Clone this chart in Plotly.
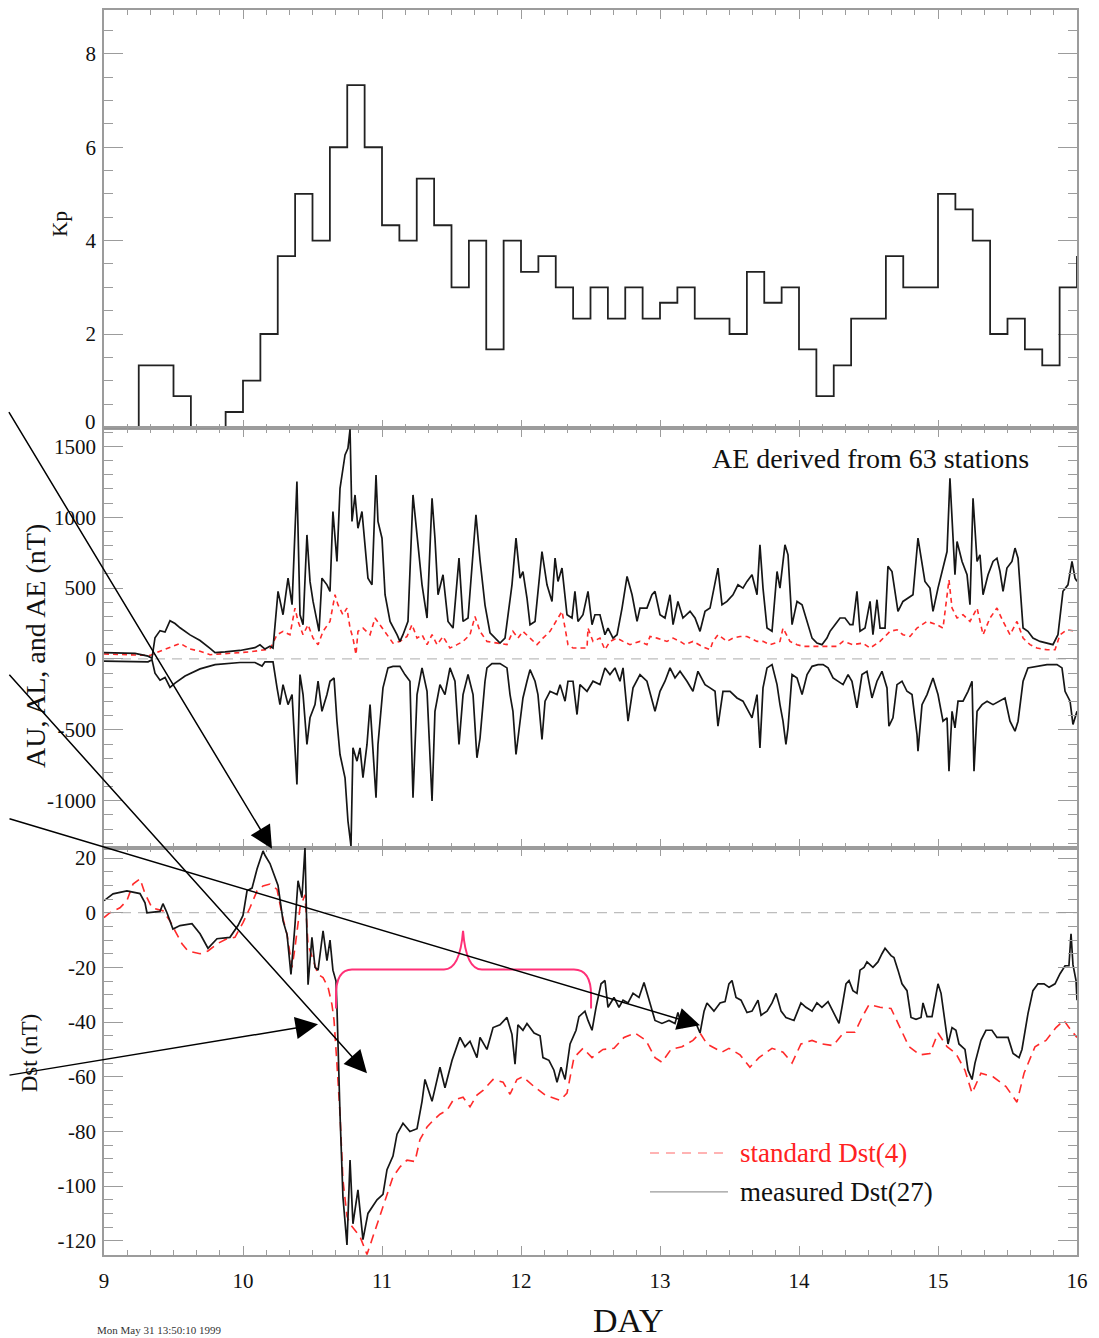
import plotly.graph_objects as go

# ---------------- data ----------------
# Kp, 3-hour bins starting at day 9.0 (last value = start of next bin at day 16)
kp_values = [0, 0, 1.33, 1.33, 0.67, 0, 0, 0.33, 1.0, 2.0, 3.67, 5.0, 4.0, 6.0, 7.33, 6.0,
             4.33, 4.0, 5.33, 4.33, 3.0, 4.0, 1.67, 4.0, 3.33, 3.67, 3.0, 2.33, 3.0, 2.33,
             3.0, 2.33, 2.67, 3.0, 2.33, 2.33, 2.0, 3.33, 2.67, 3.0, 1.67, 0.67, 1.33, 2.33,
             2.33, 3.67, 3.0, 3.0, 5.0, 4.67, 4.0, 2.0, 2.33, 1.67, 1.33, 3.0, 3.67]
kp_bin_days = 0.125

# AE (nT): (day, value)
ae_points = [
    (9.000, 45), (9.115, 45), (9.223, 40), (9.317, 20), (9.345, 5), (9.367, 150), (9.403, 200),
    (9.439, 190), (9.475, 270), (9.511, 250), (9.547, 220), (9.619, 170), (9.691, 130),
    (9.763, 75), (9.799, 45), (9.871, 50), (9.978, 60), (10.086, 80), (10.122, 100),
    (10.158, 70), (10.194, 90), (10.216, 77), (10.252, 477), (10.288, 312), (10.324, 570),
    (10.353, 383), (10.388, 1251), (10.410, 312), (10.432, 242), (10.460, 875), (10.482, 547),
    (10.504, 406), (10.547, 195), (10.568, 570), (10.604, 523), (10.626, 477), (10.647, 1040),
    (10.676, 688), (10.698, 1204), (10.734, 1439), (10.755, 1486), (10.770, 1620),
    (10.784, 970), (10.806, 1157), (10.827, 922), (10.856, 1040), (10.878, 805), (10.899, 570),
    (10.928, 523), (10.957, 1298), (10.971, 970), (11.000, 852), (11.022, 453), (11.058, 265),
    (11.108, 171), (11.129, 124), (11.151, 171), (11.187, 265), (11.223, 1157), (11.252, 875),
    (11.288, 523), (11.324, 289), (11.360, 1134), (11.381, 852), (11.403, 453), (11.439, 594),
    (11.475, 265), (11.511, 218), (11.554, 711), (11.583, 265), (11.619, 289), (11.676, 1017),
    (11.705, 700), (11.741, 380), (11.777, 185), (11.849, 112), (11.885, 147), (11.935, 523),
    (11.964, 852), (11.993, 570), (12.014, 617), (12.043, 430), (12.065, 242), (12.101, 265),
    (12.151, 758), (12.187, 523), (12.223, 406), (12.245, 711), (12.266, 547), (12.295, 641),
    (12.331, 312), (12.367, 289), (12.388, 477), (12.410, 265), (12.446, 312), (12.482, 477),
    (12.511, 242), (12.532, 312), (12.568, 312), (12.604, 171), (12.626, 218), (12.662, 147),
    (12.691, 171), (12.727, 359), (12.763, 582), (12.799, 453), (12.835, 265), (12.856, 359),
    (12.906, 359), (12.942, 453), (12.964, 477), (13.000, 312), (13.036, 289), (13.072, 453),
    (13.094, 242), (13.129, 406), (13.165, 289), (13.216, 336), (13.252, 289), (13.288, 195),
    (13.324, 336), (13.360, 359), (13.417, 641), (13.446, 383), (13.482, 406), (13.525, 453),
    (13.561, 523), (13.597, 500), (13.626, 547), (13.662, 594), (13.698, 453), (13.719, 805),
    (13.741, 500), (13.770, 218), (13.806, 195), (13.842, 617), (13.863, 500), (13.899, 805),
    (13.921, 735), (13.950, 242), (13.986, 406), (14.022, 383), (14.058, 265), (14.094, 147),
    (14.129, 112), (14.165, 101), (14.201, 147), (14.223, 195), (14.259, 242), (14.295, 289),
    (14.331, 289), (14.367, 242), (14.388, 242), (14.417, 477), (14.439, 195), (14.475, 218),
    (14.511, 406), (14.532, 171), (14.561, 418), (14.583, 218), (14.619, 218), (14.640, 653),
    (14.669, 617), (14.691, 453), (14.712, 336), (14.748, 406), (14.784, 430), (14.820, 453),
    (14.856, 852), (14.885, 688), (14.906, 547), (14.942, 500), (14.964, 336), (15.000, 500),
    (15.036, 641), (15.065, 758), (15.086, 1274), (15.108, 805), (15.122, 594), (15.137, 829),
    (15.173, 688), (15.209, 594), (15.230, 383), (15.252, 1134), (15.281, 688), (15.302, 735),
    (15.324, 453), (15.360, 594), (15.396, 688), (15.424, 711), (15.446, 617), (15.468, 477),
    (15.496, 641), (15.532, 688), (15.554, 782), (15.576, 711), (15.612, 218), (15.647, 195),
    (15.683, 147), (15.734, 124), (15.784, 112), (15.827, 101), (15.863, 171), (15.899, 477),
    (15.935, 523), (15.964, 688), (15.986, 570), (16.000, 547)]

# AU (nT)
au_points = [
    (9.000, 35), (9.187, 30), (9.331, 25), (9.403, 55), (9.475, 80), (9.547, 110), (9.619, 70),
    (9.691, 55), (9.763, 30), (9.906, 40), (10.050, 50), (10.194, 70), (10.245, 171),
    (10.288, 195), (10.338, 171), (10.374, 359), (10.396, 265), (10.432, 171), (10.468, 242),
    (10.504, 147), (10.540, 101), (10.576, 195), (10.626, 265), (10.662, 453), (10.683, 383),
    (10.719, 312), (10.748, 359), (10.770, 218), (10.791, 147), (10.813, 30), (10.827, 195),
    (10.863, 218), (10.914, 171), (10.950, 289), (10.986, 242), (11.036, 171), (11.079, 112),
    (11.129, 124), (11.180, 159), (11.216, 242), (11.252, 147), (11.288, 171), (11.324, 101),
    (11.360, 171), (11.396, 101), (11.439, 159), (11.489, 77), (11.540, 101), (11.583, 124),
    (11.633, 171), (11.669, 300), (11.705, 195), (11.755, 124), (11.899, 101), (11.942, 195),
    (11.978, 147), (12.014, 195), (12.065, 147), (12.115, 101), (12.158, 147), (12.209, 195),
    (12.259, 277), (12.295, 336), (12.317, 218), (12.338, 101), (12.374, 77), (12.475, 77),
    (12.482, 218), (12.518, 124), (12.568, 147), (12.604, 65), (12.640, 124), (12.691, 147),
    (12.734, 124), (12.784, 101), (12.856, 124), (12.906, 101), (12.928, 159), (12.978, 147),
    (13.050, 124), (13.094, 147), (13.144, 124), (13.180, 101), (13.237, 124), (13.302, 89),
    (13.360, 65), (13.381, 124), (13.417, 171), (13.482, 124), (13.525, 147), (13.576, 159),
    (13.626, 159), (13.698, 124), (13.741, 124), (13.791, 101), (13.863, 124), (13.885, 218),
    (13.935, 124), (13.986, 101), (14.029, 89), (14.151, 89), (14.273, 89), (14.317, 124),
    (14.388, 101), (14.460, 112), (14.511, 77), (14.583, 124), (14.655, 195), (14.705, 206),
    (14.748, 171), (14.799, 159), (14.849, 218), (14.921, 265), (14.993, 242), (15.036, 218),
    (15.079, 558), (15.101, 359), (15.137, 289), (15.180, 312), (15.230, 265), (15.281, 359),
    (15.324, 171), (15.374, 289), (15.424, 359), (15.468, 265), (15.518, 171), (15.568, 265),
    (15.612, 147), (15.662, 101), (15.712, 77), (15.784, 65), (15.842, 65), (15.878, 171),
    (15.928, 206), (16.000, 195)]

# AL (nT)
al_points = [
    (9.000, -15), (9.187, -20), (9.317, -20), (9.345, -5), (9.367, -100), (9.403, -150),
    (9.439, -130), (9.475, -200), (9.511, -170), (9.583, -120), (9.691, -70), (9.799, -40),
    (9.978, -25), (10.086, -25), (10.137, -50), (10.158, -20), (10.216, -20), (10.245, -204),
    (10.266, -322), (10.288, -181), (10.324, -322), (10.353, -251), (10.388, -885),
    (10.410, -110), (10.432, -251), (10.460, -603), (10.482, -415), (10.518, -322),
    (10.540, -157), (10.568, -369), (10.604, -251), (10.626, -157), (10.655, -134),
    (10.676, -439), (10.698, -674), (10.734, -838), (10.755, -1143), (10.777, -1320),
    (10.791, -627), (10.820, -721), (10.842, -627), (10.863, -838), (10.892, -603),
    (10.914, -322), (10.957, -979), (10.971, -603), (11.007, -204), (11.043, -63),
    (11.079, -52), (11.129, -52), (11.165, -110), (11.201, -157), (11.223, -979),
    (11.252, -251), (11.288, -63), (11.324, -228), (11.360, -1002), (11.381, -369),
    (11.417, -181), (11.453, -251), (11.489, -63), (11.525, -157), (11.554, -603),
    (11.583, -251), (11.619, -110), (11.655, -251), (11.683, -697), (11.705, -560),
    (11.741, -157), (11.755, -63), (11.791, -33), (11.849, -33), (11.899, -63), (11.921, -251),
    (11.942, -369), (11.964, -674), (11.993, -415), (12.014, -275), (12.043, -157),
    (12.065, -75), (12.101, -157), (12.122, -251), (12.151, -568), (12.173, -298),
    (12.209, -228), (12.259, -251), (12.281, -181), (12.317, -298), (12.338, -157),
    (12.374, -157), (12.403, -392), (12.424, -181), (12.475, -228), (12.518, -157),
    (12.568, -181), (12.604, -63), (12.640, -110), (12.676, -63), (12.712, -157),
    (12.734, -63), (12.770, -439), (12.806, -204), (12.856, -110), (12.906, -157),
    (12.964, -369), (13.000, -228), (13.036, -157), (13.072, -63), (13.108, -134),
    (13.144, -87), (13.194, -157), (13.237, -228), (13.273, -87), (13.324, -181),
    (13.360, -204), (13.396, -228), (13.417, -474), (13.453, -228), (13.504, -228),
    (13.554, -275), (13.597, -298), (13.662, -415), (13.698, -251), (13.719, -627),
    (13.741, -204), (13.770, -63), (13.806, -40), (13.842, -181), (13.863, -322),
    (13.885, -439), (13.906, -603), (13.921, -486), (13.950, -110), (13.986, -134),
    (14.022, -251), (14.058, -110), (14.094, -52), (14.137, -40), (14.173, -40),
    (14.209, -63), (14.245, -134), (14.281, -157), (14.317, -181), (14.353, -110),
    (14.381, -157), (14.417, -345), (14.453, -110), (14.489, -87), (14.525, -275),
    (14.561, -157), (14.597, -87), (14.633, -204), (14.647, -474), (14.676, -415),
    (14.705, -181), (14.741, -157), (14.777, -228), (14.813, -251), (14.849, -533),
    (14.856, -650), (14.885, -322), (14.921, -251), (14.964, -134), (15.000, -251),
    (15.036, -439), (15.065, -415), (15.079, -791), (15.101, -369), (15.122, -486),
    (15.144, -298), (15.180, -298), (15.216, -228), (15.245, -157), (15.259, -791),
    (15.281, -369), (15.317, -322), (15.353, -298), (15.396, -322), (15.446, -298),
    (15.482, -275), (15.518, -439), (15.554, -509), (15.576, -439), (15.612, -157),
    (15.647, -63), (15.712, -52), (15.784, -40), (15.856, -40), (15.892, -63),
    (15.914, -228), (15.950, -298), (15.971, -462), (16.000, -369)]

# measured Dst(27) (nT)
dst_measured_points = [
    (9.000, 4.4), (9.065, 6.9), (9.165, 8), (9.259, 7), (9.295, 3.6), (9.309, 0), (9.403, 0.5),
    (9.424, 3.3), (9.453, 0), (9.496, -6), (9.547, -4.7), (9.633, -4), (9.691, -7.7),
    (9.748, -13), (9.813, -9.5), (9.906, -9), (9.964, -4.7), (10.000, -1), (10.029, 8),
    (10.065, 9), (10.101, 16), (10.144, 22.6), (10.158, 21), (10.194, 18), (10.252, 10),
    (10.288, -3), (10.317, -8), (10.345, -22.6), (10.374, -4.4), (10.396, 11.7), (10.424, 5.5),
    (10.446, 23.7), (10.468, -26.3), (10.496, -9), (10.518, -20), (10.540, -21), (10.576, -6.6),
    (10.604, -17.5), (10.626, -10), (10.647, -21), (10.669, -25), (10.676, -34.6),
    (10.698, -73.7), (10.719, -104), (10.748, -121.5), (10.770, -90.5), (10.791, -113.8),
    (10.827, -101.4), (10.863, -119.6), (10.899, -110), (10.964, -105), (11.007, -103),
    (11.036, -94), (11.079, -89), (11.108, -81), (11.151, -77), (11.201, -80), (11.252, -79),
    (11.288, -69), (11.309, -61), (11.360, -69), (11.381, -64), (11.417, -56.5), (11.453, -64),
    (11.504, -54), (11.561, -45.6), (11.597, -49), (11.633, -47), (11.683, -53), (11.705, -45.6),
    (11.755, -50), (11.799, -42), (11.849, -41), (11.899, -38.3), (11.935, -44.5),
    (11.957, -55.4), (11.978, -41), (12.014, -43), (12.043, -40.5), (12.094, -44), (12.137, -45),
    (12.158, -53), (12.201, -54), (12.237, -57.6), (12.259, -62), (12.288, -56.5), (12.317, -61),
    (12.353, -48), (12.396, -43), (12.417, -38), (12.460, -36), (12.482, -39.4), (12.511, -43),
    (12.540, -34.6), (12.576, -26), (12.604, -24.8), (12.626, -34.6), (12.669, -31),
    (12.705, -34.6), (12.734, -32), (12.770, -33), (12.806, -29.5), (12.849, -31),
    (12.885, -25.5), (12.928, -33), (12.964, -39.4), (13.014, -40.5), (13.065, -39.4),
    (13.108, -40.5), (13.129, -36.5), (13.158, -42), (13.209, -39.4), (13.259, -40.5),
    (13.288, -44), (13.317, -36), (13.338, -33), (13.388, -36), (13.432, -33), (13.468, -32.5),
    (13.496, -26), (13.518, -24.8), (13.547, -31), (13.583, -32), (13.626, -36.5), (13.662, -36),
    (13.705, -32), (13.727, -37.5), (13.770, -36), (13.806, -33), (13.835, -29.5), (13.871, -36),
    (13.906, -38.3), (13.964, -39.4), (14.014, -33), (14.050, -34.6), (14.094, -36),
    (14.129, -33), (14.165, -34.6), (14.209, -32.5), (14.245, -36), (14.288, -40.5),
    (14.309, -34.6), (14.338, -26), (14.360, -24.8), (14.388, -28.5), (14.417, -29.5),
    (14.439, -21), (14.468, -20), (14.489, -18), (14.532, -20), (14.568, -18), (14.597, -15),
    (14.619, -13), (14.662, -15.7), (14.683, -16.4), (14.712, -21), (14.741, -26),
    (14.777, -28.5), (14.806, -38.3), (14.842, -39), (14.878, -38.3), (14.892, -33),
    (14.921, -38), (14.957, -38), (15.000, -26), (15.022, -29.5), (15.050, -39.4), (15.072, -48),
    (15.101, -42), (15.129, -43), (15.151, -48), (15.194, -50), (15.216, -57.6), (15.245, -61),
    (15.266, -55), (15.309, -46.7), (15.345, -43), (15.388, -43), (15.424, -45.6),
    (15.460, -45.6), (15.504, -45.6), (15.540, -51.5), (15.583, -53), (15.604, -50),
    (15.647, -37), (15.683, -28.5), (15.719, -26), (15.763, -26), (15.799, -27.3), (15.842, -26),
    (15.878, -22.3), (15.914, -19.4), (15.942, -19.4), (15.957, -7.7), (15.971, -19),
    (15.993, -24.8), (16.000, -32)]

# standard Dst(4) (nT)
dst_standard_points = [
    (9.000, -1.8), (9.043, 0), (9.115, 1.8), (9.165, 4.4), (9.209, 10.5), (9.259, 12.4),
    (9.295, 7), (9.345, 1.8), (9.424, 0.7), (9.475, -3), (9.511, -6.6), (9.561, -11.4),
    (9.604, -14), (9.655, -14.5), (9.691, -15), (9.748, -14), (9.813, -11.4), (9.885, -9.5),
    (9.942, -9), (10.000, -3.6), (10.050, 1.8), (10.101, 8), (10.144, 9.8), (10.194, 10.5),
    (10.245, 8.5), (10.281, -0.7), (10.317, -8), (10.353, -20), (10.374, -12.8), (10.410, 1.8),
    (10.446, 6.6), (10.468, -11.7), (10.504, -17.5), (10.540, -22.6), (10.576, -23.7),
    (10.612, -27.3), (10.640, -33.6), (10.655, -39.4), (10.676, -55.4), (10.698, -73.7),
    (10.719, -97.7), (10.748, -111), (10.770, -113.8), (10.806, -116), (10.842, -118.5),
    (10.892, -125), (10.935, -118.5), (10.986, -110), (11.036, -103), (11.079, -96.6),
    (11.129, -93), (11.180, -90.5), (11.237, -91), (11.273, -83), (11.324, -78.4),
    (11.367, -76), (11.417, -73.7), (11.468, -72.3), (11.511, -68.6), (11.583, -67.5),
    (11.633, -71), (11.683, -66.7), (11.727, -65), (11.799, -61), (11.871, -62), (11.921, -66.4),
    (11.971, -61), (12.014, -60), (12.094, -63.6), (12.173, -66.7), (12.281, -68.6),
    (12.331, -66), (12.381, -53), (12.446, -49.6), (12.511, -53), (12.590, -50), (12.669, -49.6),
    (12.741, -45.6), (12.820, -44), (12.899, -46.7), (12.964, -53), (13.014, -54.7),
    (13.079, -50), (13.158, -49), (13.237, -46.7), (13.288, -44), (13.338, -48), (13.446, -51),
    (13.496, -49.6), (13.576, -52), (13.647, -56.5), (13.712, -53), (13.806, -49.6),
    (13.885, -51), (13.950, -55), (14.014, -48), (14.094, -46.7), (14.165, -48), (14.245, -48.6),
    (14.324, -43.7), (14.403, -43.7), (14.453, -38.3), (14.504, -33.6), (14.583, -34.6),
    (14.662, -35), (14.727, -42), (14.791, -49), (14.871, -52), (14.942, -51.5), (15.000, -44),
    (15.065, -49), (15.129, -51.5), (15.194, -57.6), (15.245, -66), (15.309, -58.7),
    (15.396, -60), (15.489, -63.6), (15.568, -69.3), (15.619, -58.7), (15.698, -49),
    (15.777, -46.7), (15.849, -42), (15.906, -39.4), (15.957, -43), (16.000, -45.6)]

x_tick_days = [9, 10, 11, 12, 13, 14, 15, 16]
kp_ticks = [0, 2, 4, 6, 8]
ae_ticks = [-1000, -500, 0, 500, 1000, 1500]
dst_ticks = [-120, -100, -80, -60, -40, -20, 0, 20]

# ---------------- helpers ----------------
def unzip(points):
    return [p[0] for p in points], [p[1] for p in points]

# page body has an 8px margin, so the figure is sized/placed to compensate
OFF = 8
W, H = 1091, 1330
ML, MR, MT, MB = 96, 22, 0, 83
PW, PH = W - ML - MR, H - MT - MB

def PX(x):  # page pixel -> paper
    return (x - OFF - ML) / PW

def PY(y):
    return (H - MB - (y - OFF)) / PH

SERIF = "Liberation Serif, Times New Roman, serif"
AX_GREY = "#9c9c9c"
INK = "#111111"

kp_time = [9 + i * kp_bin_days for i in range(len(kp_values))]

fig = go.Figure()
fig.add_trace(go.Scatter(x=kp_time, y=kp_values, mode="lines", line_shape="hv",
                         line=dict(color="#222222", width=1.8), xaxis="x", yaxis="y",
                         showlegend=False))
ax_, ay_ = unzip(au_points)
fig.add_trace(go.Scatter(x=ax_, y=ay_, mode="lines",
                         line=dict(color="#ff2a2a", width=1.6, dash="5px,4px"),
                         xaxis="x2", yaxis="y2", showlegend=False))
ex, ey = unzip(ae_points)
fig.add_trace(go.Scatter(x=ex, y=ey, mode="lines", line=dict(color="#161616", width=1.7),
                         xaxis="x2", yaxis="y2", showlegend=False))
lx, ly = unzip(al_points)
fig.add_trace(go.Scatter(x=lx, y=ly, mode="lines", line=dict(color="#161616", width=1.7),
                         xaxis="x2", yaxis="y2", showlegend=False))
sx, sy = unzip(dst_standard_points)
fig.add_trace(go.Scatter(x=sx, y=sy, mode="lines",
                         line=dict(color="#ff2a2a", width=1.6, dash="9px,6px"),
                         xaxis="x3", yaxis="y3", showlegend=False))
mx, my = unzip(dst_measured_points)
fig.add_trace(go.Scatter(x=mx, y=my, mode="lines", line=dict(color="#161616", width=1.7),
                         xaxis="x3", yaxis="y3", showlegend=False))

y_top = PY(427)
y_mid = PY(847)

minor_x = [9 + k / 6 for k in range(43)]

def xaxis(anchor, labels, layer="above traces"):
    return dict(range=[9, 16], anchor=anchor, domain=[0, 1], showline=True,
                linecolor=AX_GREY, linewidth=1.5, mirror="ticks", ticks="inside",
                ticklen=9, tickwidth=1.2, tickcolor=AX_GREY, tickmode="array",
                tickvals=x_tick_days, ticktext=[str(v) for v in x_tick_days],
                showticklabels=labels, tickfont=dict(family=SERIF, size=21, color=INK),
                minor=dict(ticks="inside", ticklen=5, tickwidth=1, tickcolor=AX_GREY,
                           tickmode="array", tickvals=minor_x),
                showgrid=False, zeroline=False, ticklabelstandoff=6, layer=layer)

def yaxis(rng, dom, ticks, labels, minor_step, anchor, layer="above traces"):
    lo = int(rng[0] // minor_step) * minor_step
    mv = []
    v = lo
    while v <= rng[1]:
        mv.append(v)
        v += minor_step
    return dict(range=rng, domain=dom, anchor=anchor, showline=True, linecolor=AX_GREY,
                linewidth=1.5, mirror="ticks", ticks="inside", ticklen=19, tickwidth=1.2,
                tickcolor=AX_GREY, tickmode="array", tickvals=ticks, ticktext=labels,
                tickfont=dict(family=SERIF, size=21, color=INK),
                minor=dict(ticks="inside", ticklen=9, tickwidth=1, tickcolor=AX_GREY,
                           tickmode="array", tickvals=mv),
                showgrid=False, zeroline=False, ticklabelstandoff=2, layer=layer)

# Kp "0" label sits a little above its tick in the reference -> drawn separately
kp_labels = ["" if t == 0 else str(t) for t in kp_ticks]

fig.update_layout(
    width=W, height=H, margin=dict(l=ML, r=MR, t=MT, b=MB),
    paper_bgcolor="white", plot_bgcolor="white",
    xaxis=xaxis("y", False, "below traces"), xaxis2=xaxis("y2", False),
    xaxis3=xaxis("y3", True),
    yaxis=yaxis([-0.02, 8.94], [y_top, 1], kp_ticks, kp_labels, 0.5, "x", "below traces"),
    yaxis2=yaxis([-1331, 1627], [y_mid, y_top], ae_ticks, [str(t) for t in ae_ticks],
                 100, "x2"),
    yaxis3=yaxis([-125.2, 23.8], [0, y_mid], dst_ticks, [str(t) for t in dst_ticks],
                 5, "x3"),
    font=dict(family=SERIF, color=INK),
)

shapes = []
# dashed zero lines
for xr, yr in (("x2 domain", "y2"), ("x3 domain", "y3")):
    shapes.append(dict(type="line", xref=xr, yref=yr, x0=0, x1=1, y0=0, y1=0,
                       line=dict(color="#bdbdbd", width=1.3, dash="10px,7px"), layer="below"))
# pink brace over the recovery phase
brace = ("M 10.669,-35 L 10.669,-30.3 Q 10.669,-20.8 10.784,-20.8 L 11.446,-20.8 "
         "Q 11.561,-20.8 11.583,-6.6 Q 11.604,-20.8 11.719,-20.8 L 12.381,-20.8 "
         "Q 12.504,-20.8 12.504,-30.3 L 12.504,-35")
shapes.append(dict(type="path", xref="x3", yref="y3", path=brace,
                   line=dict(color="#ff3077", width=2)))
# legend samples
shapes.append(dict(type="line", xref="x3", yref="y3", x0=12.928, x1=13.489, y0=-87.9, y1=-87.9,
                   line=dict(color="#ff9a9a", width=1.3, dash="9px,7px")))
shapes.append(dict(type="line", xref="x3", yref="y3", x0=12.928, x1=13.489, y0=-102.1, y1=-102.1,
                   line=dict(color="#9a9a9a", width=1.3)))
fig.update_layout(shapes=shapes)

ann = []
ann.append(dict(text="AE derived from 63 stations", xref="x2", yref="y2", x=13.36, y=1415,
                xanchor="left", yanchor="middle", showarrow=False,
                font=dict(family=SERIF, size=28, color=INK)))
ann.append(dict(text="standard Dst(4)", xref="x3", yref="y3", x=13.56, y=-87.9,
                xanchor="left", yanchor="middle", showarrow=False,
                font=dict(family=SERIF, size=27, color="#ff2222")))
ann.append(dict(text="measured Dst(27)", xref="x3", yref="y3", x=13.56, y=-102.1,
                xanchor="left", yanchor="middle", showarrow=False,
                font=dict(family=SERIF, size=27, color=INK)))
ann.append(dict(text="0", xref="paper", yref="paper", x=PX(98), y=PY(421),
                xanchor="right", yanchor="middle", showarrow=False,
                font=dict(family=SERIF, size=21, color=INK)))
# axis titles
for txt, cx, cy, sz in (("Kp", 60, 222, 21), ("AU, AL, and AE (nT)", 36, 645, 28),
                        ("Dst (nT)", 29, 1053, 23)):
    ann.append(dict(text=txt, xref="paper", yref="paper", x=PX(cx), y=PY(cy), textangle=-90,
                    xanchor="center", yanchor="middle", showarrow=False,
                    font=dict(family=SERIF, size=sz, color=INK)))
ann.append(dict(text="DAY", xref="paper", yref="paper", x=PX(628), y=PY(1321),
                xanchor="center", yanchor="middle",
                showarrow=False, font=dict(family=SERIF, size=34, color=INK)))
ann.append(dict(text="Mon May 31 13:50:10 1999", xref="paper", yref="paper", x=PX(95),
                y=PY(1330), xanchor="left", yanchor="middle", showarrow=False,
                font=dict(family=SERIF, size=11, color="#333333")))
# arrows (head position, tail offset in pixels)
arrows = [((272, 848), (0, 410)), ((367, 1073), (0, 673)),
          ((700, 1025), (0, 818)), ((318, 1024), (0, 1075))]
for (hx, hy), (tx, ty) in arrows:
    ann.append(dict(text="", xref="paper", yref="paper", x=PX(hx), y=PY(hy),
                    axref="pixel", ayref="pixel", ax=tx - hx, ay=ty - hy,
                    showarrow=True, arrowhead=2, arrowsize=3.0, arrowwidth=1.5,
                    arrowcolor="#000000", standoff=0, startstandoff=0))
fig.update_layout(annotations=ann)

fig.write_html("out.html")
